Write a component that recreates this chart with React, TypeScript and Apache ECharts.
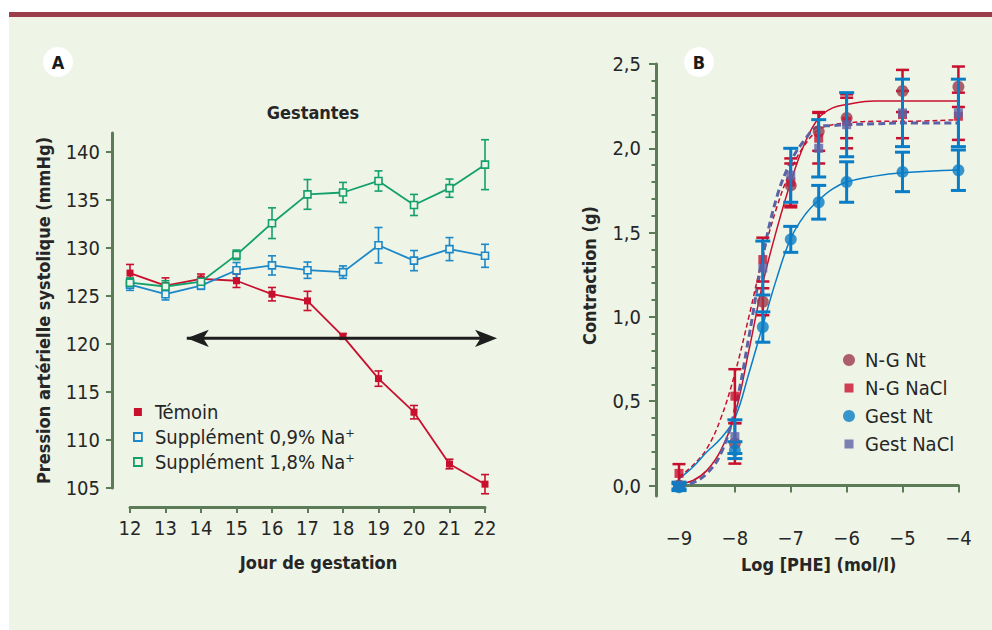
import React, { useEffect, useRef } from 'react';
import * as echarts from 'echarts';

const FONT = "'DejaVu Sans Condensed', 'Liberation Sans Narrow', 'Roboto', sans-serif";
const BG = '#eef4e6';
const AXIS = '#5b7c57';
const TXT = '#262626';

// ---------- Panel A data ----------
const days = [12, 13, 14, 15, 16, 17, 18, 19, 20, 21, 22];
const temoin = [127.4, 126.1, 126.8, 126.6, 125.2, 124.5, 120.8, 116.4, 112.9, 107.5, 105.4];
const temoinErr = [0.9, 0.8, 0.5, 0.7, 0.7, 1.0, 0.3, 0.8, 0.7, 0.5, 1.0];
const supp09 = [126.2, 125.2, 126.1, 127.7, 128.2, 127.7, 127.5, 130.3, 128.7, 129.9, 129.2];
const supp09Err = [0.6, 0.6, 0.4, 0.8, 1.0, 0.85, 0.65, 1.85, 1.05, 1.2, 1.2];
const supp18 = [126.4, 126.0, 126.5, 129.3, 132.6, 135.6, 135.8, 137.0, 134.5, 136.25, 138.7];
const supp18Err = [0.5, 0.6, 0.5, 0.5, 1.6, 1.55, 1.05, 1.05, 1.1, 0.95, 2.6];
const yTicksA = [105, 110, 115, 120, 125, 130, 135, 140];
const arrowX = [13.6, 22.34];
const arrowY = 120.6;

// ---------- Panel B data ----------
const logConc = [-9, -8, -7.5, -7, -6.5, -6, -5, -4];
const ngNt = [0.0, 0.25, 1.09, 1.78, 2.10, 2.18, 2.34, 2.365];
const ngNtErr = [0.02, 0.12, 0.08, 0.13, 0.115, 0.12, 0.125, 0.12];
const ngNacl = [0.072, 0.53, 1.34, 1.80, 2.06, 2.16, 2.20, 2.19];
const ngNaclErr = [0.055, 0.16, 0.13, 0.14, 0.15, 0.16, 0.14, 0.14];
const gestNt = [-0.01, 0.21, 0.94, 1.46, 1.68, 1.80, 1.86, 1.87];
const gestNtErr = [0.02, 0.05, 0.09, 0.077, 0.1, 0.12, 0.117, 0.12];
const gestNacl = [0.0, 0.29, 1.29, 1.84, 2.0, 2.14, 2.21, 2.21];
const gestNaclErr = [0.02, 0.1, 0.16, 0.16, 0.17, 0.19, 0.2, 0.2];

const curveX = [-9, -8.75, -8.5, -8.25, -8, -7.75, -7.5, -7.25, -7, -6.75, -6.5, -6.25, -6, -5.5, -5, -4];
const ngNtFit = [0.01, 0.03, 0.09, 0.21, 0.42, 0.8, 1.2, 1.52, 1.8, 2.03, 2.18, 2.24, 2.26, 2.28, 2.28, 2.28];
const ngNaclFit = [0.05, 0.12, 0.22, 0.4, 0.665, 1.0, 1.357, 1.65, 1.87, 2.02, 2.11, 2.14, 2.15, 2.16, 2.16, 2.17];
const gestNtFit = [0.04, 0.11, 0.2, 0.28, 0.4, 0.665, 0.95, 1.23, 1.466, 1.604, 1.693, 1.76, 1.8, 1.835, 1.855, 1.871];
const gestNaclFit = [0.0, 0.017, 0.072, 0.19, 0.45, 0.88, 1.357, 1.71, 1.92, 2.05, 2.13, 2.135, 2.14, 2.145, 2.15, 2.15];
const yMajorB = [0, 0.5, 1, 1.5, 2, 2.5];
const yMinorB = [0.1, 0.2, 0.3, 0.4, 0.6, 0.7, 0.8, 0.9, 1.1, 1.2, 1.3, 1.4, 1.6, 1.7, 1.8, 1.9, 2.1, 2.2, 2.3, 2.4];

const RED = '#c8102e';
const BLUE_A = '#1b88c9';
const GREEN_A = '#13a06c';
const MAROON = '#9b3a4c';
const BLUE = '#0a7dc6';
const PURPLE = '#5c63a5';

const pairs = (xs: number[], ys: number[]) => xs.map((x, i) => [x, ys[i]]);
const errData = (xs: number[], ys: number[], es: number[]) => xs.map((x, i) => [x, ys[i] - es[i], ys[i] + es[i]]);

function errSeries(data: number[][], color: string, lw: number, cap: number, gi: number, z: number) {
  return {
    type: 'custom',
    xAxisIndex: gi,
    yAxisIndex: gi,
    silent: true,
    z,
    clip: false,
    encode: { x: 0, y: [1, 2] },
    data,
    renderItem: (params: any, api: any) => {
      const x = api.value(0);
      const lo = api.coord([x, api.value(1)]);
      const hi = api.coord([x, api.value(2)]);
      const h = cap / 2;
      const st = { stroke: color, lineWidth: lw };
      return {
        type: 'group',
        children: [
          { type: 'line', shape: { x1: lo[0], y1: lo[1], x2: hi[0], y2: hi[1] }, style: st },
          { type: 'line', shape: { x1: lo[0] - h, y1: lo[1], x2: lo[0] + h, y2: lo[1] }, style: st },
          { type: 'line', shape: { x1: hi[0] - h, y1: hi[1], x2: hi[0] + h, y2: hi[1] }, style: st },
        ],
      };
    },
  };
}

const fmtComma = (v: number) => v.toFixed(1).replace('.', ',');
const fmtMinus = (v: number) => (v < 0 ? '\u2212' + Math.abs(v) : String(v));

const labelFont = { fontFamily: FONT, fontSize: 20, color: TXT };
const nameFont = { fontFamily: FONT, fontSize: 18, fontWeight: 'bold', color: TXT };
const SQ = 'path://M0,0M12,12M1.5,1.5H10.5V10.5H1.5Z';

export default function App() {
  const ref = useRef<HTMLDivElement>(null);
  useEffect(() => {
    if (!ref.current) return;
    const chart = echarts.init(ref.current, undefined, { renderer: 'svg' });
    const option: any = {
      animation: false,
      backgroundColor: '#ffffff',
      title: {
        text: 'Gestantes',
        left: 308,
        top: 98,
        textAlign: 'center',
        textStyle: nameFont,
      },
      graphic: [
        { type: 'rect', z: -10, shape: { x: 9, y: 17, width: 983, height: 613 }, style: { fill: BG } },
        { type: 'rect', z: -10, shape: { x: 9, y: 12, width: 983, height: 5 }, style: { fill: '#9c3d4b' } },
        { type: 'circle', z: 10, shape: { cx: 58, cy: 62, r: 15 }, style: { fill: '#ffffff' } },
        { type: 'text', z: 11, x: 58, y: 62, style: { text: 'A', fontFamily: FONT, fontWeight: 'bold', fontSize: 18, fill: '#1a1a1a', align: 'center', verticalAlign: 'middle' } },
        { type: 'circle', z: 10, shape: { cx: 699, cy: 62, r: 15 }, style: { fill: '#ffffff' } },
        { type: 'text', z: 11, x: 699, y: 62, style: { text: 'B', fontFamily: FONT, fontWeight: 'bold', fontSize: 18, fill: '#1a1a1a', align: 'center', verticalAlign: 'middle' } },
      ],
      legend: [
        {
          orient: 'vertical',
          left: 128,
          top: 397,
          itemWidth: 8,
          itemHeight: 8,
          itemGap: 5,
          selectedMode: false,
          textStyle: { ...labelFont, padding: [0, 0, 0, 8] },
          data: [
            { name: 'Témoin', icon: 'rect', itemStyle: { color: RED, borderWidth: 0 } },
            { name: 'Supplément 0,9% Na\u207A', icon: 'rect', itemStyle: { color: BG, borderColor: BLUE_A, borderWidth: 1.8 } },
            { name: 'Supplément 1,8% Na\u207A', icon: 'rect', itemStyle: { color: BG, borderColor: GREEN_A, borderWidth: 1.8 } },
          ],
        },
        {
          orient: 'vertical',
          left: 838,
          top: 345,
          itemWidth: 12,
          itemHeight: 12,
          itemGap: 8,
          selectedMode: false,
          textStyle: { ...labelFont, padding: [0, 0, 0, 5] },
          data: [
            { name: 'N-G Nt', icon: 'circle' },
            { name: 'N-G NaCl', icon: SQ },
            { name: 'Gest Nt', icon: 'circle' },
            { name: 'Gest NaCl', icon: SQ },
          ],
        },
      ],
      grid: [
        { left: 130, top: 133, width: 355, height: 355 },
        { left: 679, top: 64, width: 279.4, height: 432 },
      ],
      xAxis: [
        {
          gridIndex: 0,
          type: 'value',
          min: 12,
          max: 22,
          interval: 1,
          offset: 19,
          axisLine: { show: true, lineStyle: { color: AXIS, width: 3 } },
          axisTick: { show: true, length: 6, lineStyle: { color: AXIS, width: 2 } },
          axisLabel: { ...labelFont, margin: 11 },
          splitLine: { show: false },
          name: 'Jour de gestation',
          nameLocation: 'middle',
          nameGap: 46,
          nameTextStyle: { ...nameFont, padding: [0, 0, 0, 22] },
        },
        {
          gridIndex: 1,
          type: 'value',
          min: -9,
          max: -4,
          interval: 1,
          offset: 23,
          axisLine: { show: true, lineStyle: { color: AXIS, width: 3 } },
          axisTick: { show: true, length: 7, lineStyle: { color: AXIS, width: 2 } },
          axisLabel: { ...labelFont, margin: 9, formatter: fmtMinus },
          splitLine: { show: false },
          name: 'Log [PHE] (mol/l)',
          nameLocation: 'middle',
          nameGap: 36,
          nameTextStyle: nameFont,
        },
      ],
      yAxis: [
        {
          gridIndex: 0,
          type: 'value',
          min: 105,
          max: 142,
          offset: 18,
          position: 'left',
          axisLine: { show: true, lineStyle: { color: AXIS, width: 3 } },
          axisTick: { show: true, length: 6, lineStyle: { color: AXIS, width: 2 }, customValues: yTicksA },
          axisLabel: { ...labelFont, margin: 12, customValues: yTicksA },
          splitLine: { show: false },
          name: 'Pression artérielle systolique (mmHg)',
          nameLocation: 'middle',
          nameGap: 60,
          nameTextStyle: nameFont,
        },
        {
          gridIndex: 1,
          type: 'value',
          min: -0.062,
          max: 2.5,
          offset: 23,
          position: 'left',
          axisLine: { show: true, lineStyle: { color: AXIS, width: 3 } },
          axisTick: { show: true, length: 7, lineStyle: { color: AXIS, width: 2 }, customValues: yMajorB },
          axisLabel: { ...labelFont, margin: 15, customValues: yMajorB, formatter: fmtComma },
          splitLine: { show: false },
          name: 'Contraction (g)',
          nameLocation: 'middle',
          nameGap: 58,
          nameTextStyle: { ...nameFont, padding: [0, 0, 0, 9] },
        },
        {
          gridIndex: 1,
          type: 'value',
          min: -0.062,
          max: 2.5,
          offset: 23,
          position: 'left',
          axisLine: { show: false },
          axisTick: { show: true, length: 4.5, lineStyle: { color: AXIS, width: 2 }, customValues: yMinorB },
          axisLabel: { show: false },
          splitLine: { show: false },
        },
      ],
      series: [
        // ----- Panel A -----
        errSeries(errData(days, temoin, temoinErr), RED, 1.6, 8, 0, 3),
        errSeries(errData(days, supp09, supp09Err), BLUE_A, 1.6, 8, 0, 3),
        errSeries(errData(days, supp18, supp18Err), GREEN_A, 1.6, 8, 0, 3),
        {
          name: 'Témoin', type: 'line', xAxisIndex: 0, yAxisIndex: 0, z: 4,
          data: pairs(days, temoin), symbol: 'rect', symbolSize: 7,
          itemStyle: { color: RED }, lineStyle: { color: RED, width: 1.8 },
        },
        {
          name: 'Supplément 0,9% Na\u207A', type: 'line', xAxisIndex: 0, yAxisIndex: 0, z: 4,
          data: pairs(days, supp09), symbol: 'rect', symbolSize: 7,
          itemStyle: { color: BG, borderColor: BLUE_A, borderWidth: 1.6 }, lineStyle: { color: BLUE_A, width: 1.8 },
        },
        {
          name: 'Supplément 1,8% Na\u207A', type: 'line', xAxisIndex: 0, yAxisIndex: 0, z: 4,
          data: pairs(days, supp18), symbol: 'rect', symbolSize: 7,
          itemStyle: { color: BG, borderColor: GREEN_A, borderWidth: 1.6 }, lineStyle: { color: GREEN_A, width: 1.8 },
        },
        {
          name: 'arrow', type: 'line', xAxisIndex: 0, yAxisIndex: 0, z: 5, silent: true, clip: false,
          symbol: 'arrow', symbolSize: [13, 22],
          itemStyle: { color: '#1e1e1e' },
          lineStyle: { color: '#1e1e1e', width: 3 },
          data: [
            { value: [arrowX[0], arrowY], symbolRotate: 90 },
            { value: [arrowX[1], arrowY], symbolRotate: -90 },
          ],
        },
        // ----- Panel B curves -----
        { name: 'fit1', type: 'line', xAxisIndex: 1, yAxisIndex: 1, z: 2, data: pairs(curveX, ngNtFit), showSymbol: false, smooth: 0.4, lineStyle: { color: RED, width: 1.5 } },
        { name: 'fit2', type: 'line', xAxisIndex: 1, yAxisIndex: 1, z: 2, data: pairs(curveX, ngNaclFit), showSymbol: false, smooth: 0.4, lineStyle: { color: RED, width: 1.5, type: [5, 3] } },
        { name: 'fit3', type: 'line', xAxisIndex: 1, yAxisIndex: 1, z: 2, data: pairs(curveX, gestNtFit), showSymbol: false, smooth: 0.4, lineStyle: { color: BLUE, width: 1.5 } },
        { name: 'fit4', type: 'line', xAxisIndex: 1, yAxisIndex: 1, z: 2, data: pairs(curveX, gestNaclFit), showSymbol: false, smooth: 0.4, lineStyle: { color: PURPLE, width: 3, type: [7, 4] } },
        // ----- Panel B error bars & markers -----
        errSeries(errData(logConc, ngNt, ngNtErr), RED, 2.5, 13, 1, 3),
        errSeries(errData(logConc, ngNacl, ngNaclErr), RED, 2.5, 13, 1, 3),
        { name: 'N-G Nt', type: 'scatter', xAxisIndex: 1, yAxisIndex: 1, z: 4, data: pairs(logConc, ngNt), symbol: 'circle', symbolSize: 12, itemStyle: { color: MAROON } },
        { name: 'N-G NaCl', type: 'scatter', xAxisIndex: 1, yAxisIndex: 1, z: 5, data: pairs(logConc, ngNacl), symbol: 'rect', symbolSize: 9, itemStyle: { color: RED } },
        errSeries(errData(logConc, gestNt, gestNtErr), BLUE, 3, 15, 1, 6),
        errSeries(errData(logConc, gestNacl, gestNaclErr), BLUE, 3, 15, 1, 6),
        { name: 'Gest NaCl', type: 'scatter', xAxisIndex: 1, yAxisIndex: 1, z: 7, data: pairs(logConc, gestNacl), symbol: 'rect', symbolSize: 9, itemStyle: { color: PURPLE } },
        { name: 'Gest Nt', type: 'scatter', xAxisIndex: 1, yAxisIndex: 1, z: 8, data: pairs(logConc, gestNt), symbol: 'circle', symbolSize: 12, itemStyle: { color: BLUE } },
      ],
    };
    chart.setOption(option);
    return () => chart.dispose();
  }, []);
  return <div ref={ref} style={{ position: 'absolute', left: 0, top: 0, width: 992, height: 630 }} />;
}
